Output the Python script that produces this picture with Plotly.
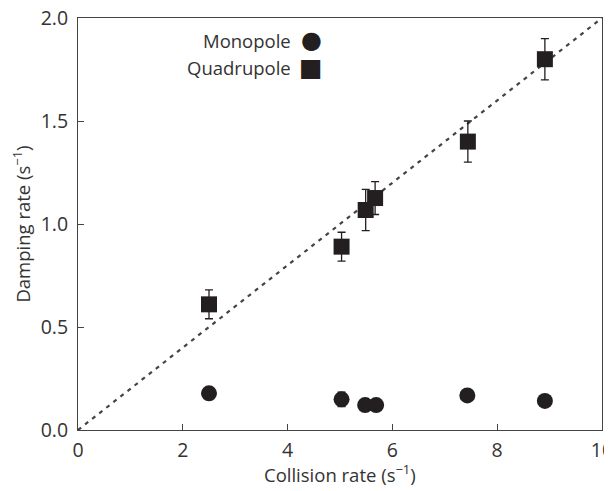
import plotly.graph_objects as go

# Data
mono_x = [2.5, 5.03, 5.48, 5.69, 7.43, 8.91]
mono_y = [0.178, 0.149, 0.121, 0.121, 0.168, 0.141]
mono_err = [0.01, 0.035, 0.01, 0.01, 0.01, 0.01]

quad_x = [2.5, 5.03, 5.49, 5.67, 7.44, 8.91]
quad_y = [0.61, 0.89, 1.068, 1.126, 1.40, 1.80]
quad_err = [0.07, 0.07, 0.10, 0.08, 0.10, 0.10]

line_x = [0, 10]
line_y = [0, 2.0]

x_ticks = [0, 2, 4, 6, 8, 10]
y_ticks = [0.0, 0.5, 1.0, 1.5, 2.0]
y_ticklabels = ["0.0", "0.5", "1.0", "1.5", "2.0"]

legend_labels = ["Monopole", "Quadrupole"]
legend_glyphs = ["●", "■"]

x_title = "Collision rate (s<sup>−1</sup>)"
y_title = "Damping rate (s<sup>−1</sup>)"

ink = "#231f20"
font_family = "Open Sans"

fig = go.Figure()

fig.add_trace(go.Scatter(
    x=line_x, y=line_y, mode="lines",
    line=dict(color="#444444", width=2.2, dash="4px,5px"),
    showlegend=False, hoverinfo="skip"))

fig.add_trace(go.Scatter(
    x=quad_x, y=quad_y, mode="markers", name="Quadrupole",
    marker=dict(symbol="square", size=16, color=ink),
    error_y=dict(type="data", array=quad_err, color=ink, thickness=1.3, width=4),
    showlegend=False))

fig.add_trace(go.Scatter(
    x=mono_x, y=mono_y, mode="markers", name="Monopole",
    marker=dict(symbol="circle", size=16, color=ink),
    error_y=dict(type="data", array=mono_err, color=ink, thickness=1.3, width=4),
    showlegend=False))

axis_common = dict(
    showline=True, linecolor="#444444", linewidth=1, mirror=True,
    ticks="inside", ticklen=6, tickcolor="#444444", tickwidth=1,
    showgrid=False, zeroline=False, automargin=False,
    ticklabeloverflow="allow",
    tickfont=dict(family=font_family, size=19.5, color="#333333"),
)

fig.update_xaxes(range=[0, 10], tickvals=x_ticks, ticklabelstandoff=3,
                 **axis_common)
fig.update_yaxes(range=[0, 2.0], tickvals=y_ticks, ticktext=y_ticklabels,
                 ticklabelstandoff=5,
                 title=dict(text=y_title,
                            font=dict(family=font_family, size=18.5, color="#333333"),
                            standoff=17),
                 **axis_common)

# x-axis title placed as annotation (to match reference spacing)
fig.add_annotation(xref="paper", yref="paper", x=0.5, y=0,
                   xanchor="center", yanchor="middle", yshift=-43,
                   showarrow=False, text=x_title,
                   font=dict(family=font_family, size=18.5, color="#333333"))

legend_y = [0.946, 0.880]
glyph_sizes = [24, 25]
for lab, gl, yy, gs in zip(legend_labels, legend_glyphs, legend_y, glyph_sizes):
    fig.add_annotation(xref="paper", yref="paper", x=0.41, y=yy,
                       xanchor="right", yanchor="middle", showarrow=False,
                       text=lab,
                       font=dict(family=font_family, size=18.5, color="#333333"))
    fig.add_annotation(xref="paper", yref="paper", x=0.445, y=yy,
                       xanchor="center", yanchor="middle", showarrow=False,
                       text=gl,
                       font=dict(family="DejaVu Sans", size=gs, color=ink))

fig.update_layout(
    width=604, height=483,
    margin=dict(l=70, r=10, t=10, b=61, autoexpand=False),
    paper_bgcolor="white", plot_bgcolor="white",
)

fig.write_html("out.html")
